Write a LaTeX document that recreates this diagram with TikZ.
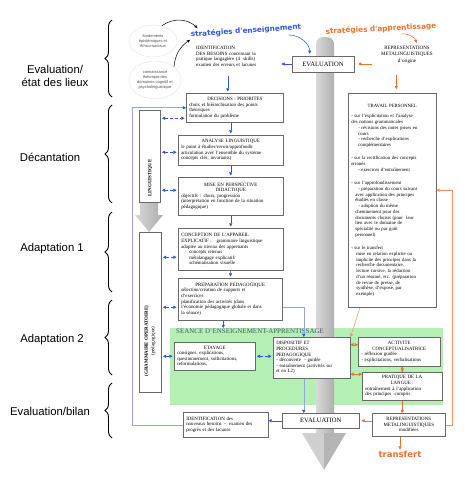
\documentclass[tikz,border=0pt]{standalone}
\usepackage{fontspec}
\setmainfont{Liberation Serif}
\setsansfont{Liberation Sans}
\newfontfamily\stratfont{DejaVu Sans}
\usetikzlibrary{arrows.meta,shapes.geometric,decorations.pathreplacing}
\definecolor{bleu}{RGB}{45,85,225}
\definecolor{orang}{RGB}{240,110,40}
\definecolor{vert}{RGB}{180,240,180}
\definecolor{lavande}{RGB}{150,165,225}
\definecolor{ardoise}{RGB}{70,85,110}
\definecolor{bord}{RGB}{105,105,105}
\newcommand{\boxfont}{\fontsize{4.9}{5.6}\selectfont}
\newcommand{\ttl}[1]{\hfill#1\hfill\null}
\begin{document}
\begin{tikzpicture}[x=1pt,y=-1pt,>={Triangle[length=3.2pt,width=3.2pt]}]
\tikzstyle{boite}=[draw=bord, fill=white, line width=0.5pt, anchor=north west, inner xsep=3pt, inner ysep=2pt, align=left, font=\boxfont]
\tikzstyle{libre}=[anchor=north west, inner sep=1pt, align=left, font=\boxfont]
\tikzstyle{etape}=[font=\sffamily\fontsize{11.3}{13.5}\selectfont, align=center]
\tikzstyle{accol}=[decorate, decoration={brace, amplitude=7pt}, line width=0.9pt]
\tikzstyle{bulle}=[ellipse, draw=gray!22, inner sep=0pt, align=center, font=\sffamily\fontsize{4}{5}\selectfont, text=gray!60!black]
\tikzstyle{strat}=[font=\stratfont\bfseries\fontsize{7.3}{8}\selectfont, inner sep=1pt]
\tikzstyle{vtxt}=[rotate=90, inner sep=0pt, align=center, font=\bfseries\fontsize{5}{6.5}\selectfont]
\tikzstyle{bfl}=[draw=bleu, line width=0.5pt, ->]
\tikzstyle{bdd}=[bfl, <->, densely dashed, shorten <=1.5pt, shorten >=1.5pt]
\tikzstyle{ofl}=[draw=orang, line width=0.5pt, ->]
\tikzstyle{odd}=[ofl, <->]
\tikzstyle{boucle}=[draw=lavande, line width=0.5pt, -{Triangle[length=3.2pt,width=3.2pt,color=bleu]}]
\useasboundingbox (0,0) rectangle (474,484);

\node[etape] (etat) at (55,76) {Evaluation/\\état des lieux};
\node[etape] (decant) at (50,157) {Décantation};
\node[etape] (adapt1) at (52,249) {Adaptation 1};
\node[etape] (adapt2) at (52,340) {Adaptation 2};
\node[etape] (bilan) at (50,411) {Evaluation/bilan};

\draw[accol] (112,97) -- (112,20);
\draw[accol] (112,203) -- (112,105);
\draw[accol] (112,292) -- (112,212);
\draw[accol] (112,375) -- (112,300);
\draw[accol] (112,438) -- (112,383);

\node[bulle, minimum width=48, minimum height=32] (ell1) at (153,41) {fondements\\épistémiques et\\éthico-sociaux};
\node[bulle, minimum width=52, minimum height=38] (ell2) at (155,80) {connaissance\\théorique des\\domaines cognitif et\\psycholinguistique};
\node[strat, text=bleu, rotate=4] (sens) at (246,31) {stratégies d'enseignement};
\node[strat, text=orang, rotate=3] (sapp) at (381,29) {stratégies d'apprentissage};

\node[fill=vert, anchor=north west, inner sep=0pt, minimum width=273, minimum height=77] (seance) at (170,328) {};
\shade[left color=gray!30, right color=gray!62, rounded corners=7pt] (316,440) -- (316,37) -- (334,37) -- (334,440) -- cycle;
\fill[gray!38] (302,433) -- (324,433) -- (324,470) -- cycle;
\fill[gray!58] (324,433) -- (346,433) -- (324,470) -- cycle;
\node[anchor=north west, inner sep=0pt, text=ardoise, font=\fontsize{7}{8}\selectfont] (seanct) at (176,329) {SEANCE D'ENSEIGNEMENT-APPRENTISSAGE};

\node[libre, text width=84] (ide1) at (195,45) {IDENTIFICATION\\DES BESOINS concernant la\\pratique langagière (4 \ skills)\\examen des erreurs et lacunes};
\node[boite, anchor=center, minimum width=62, minimum height=16, font=\fontsize{6.6}{7.5}\selectfont] (ev1) at (323,64) {EVALUATION};
\node[libre, anchor=north, align=center, minimum width=70, font=\fontsize{5}{6.3}\selectfont] (rep1) at (407,45) {REPRESENTATIONS\\METALINGUISTIQUES\\d'origine};

\node[boite, text width=82, minimum height=214, font=\fontsize{4.8}{5.75}\selectfont] (trav) at (348,93) {\ttl{TRAVAIL PERSONNEL}\\[5pt]
- sur l'explicitation et l'analyse\\
des notions grammaticales\\
\hspace*{7pt}- révisions des notes prises en\\
\hspace*{7pt}cours\\
\hspace*{7pt}- recherche d'explications\\
\hspace*{7pt}complémentaires\\[7.5pt]
- sur la rectification des concepts\\
erronés\\
\hspace*{7pt}- exercices d'entraînement\\[7.5pt]
- sur l'approfondissement\\
\hspace*{7pt}- préparation du cours suivant\\
\hspace*{4pt}avec application des principes\\
\hspace*{4pt}étudiés en classe\\
\hspace*{7pt}- adoption du même\\
\hspace*{4pt}cheminement pour des\\
\hspace*{4pt}documents choisis (pour \ leur\\
\hspace*{4pt}lien avec le domaine de\\
\hspace*{4pt}spécialité ou par goût\\
\hspace*{4pt}personnel)\\[7.5pt]
- sur le transfert\\
\hspace*{5pt}mise en relation explicite ou\\
\hspace*{5pt}implicite des principes dans la\\
\hspace*{5pt}recherche documentaire,\\
\hspace*{5pt}lecture cursive, la rédaction\\
\hspace*{5pt}d'un résumé, etc. (préparation\\
\hspace*{5pt}de revue de presse, de\\
\hspace*{5pt}synthèse, d'exposé, par\\
\hspace*{5pt}exemple)};

\node[boite, minimum width=21, minimum height=92] (ling) at (139,110) {};
\node[boite, minimum width=22, minimum height=160] (gram) at (139,232) {};
\node[vtxt] (lingt) at (150,178) {LINGUISTIQUE};
\node[vtxt] (gramt) at (150,341) {(GRAMMAIRE OPERATOIRE)\\{\mdseries(pédagogique)}};
\shade[left color=gray!30, right color=gray!65] (140,203) -- (158,203) -- (158,215) -- (163,215) -- (149,232) -- (135,215) -- (140,215) -- cycle;

\node[boite, text width=91, minimum height=29] (deci) at (186,93) {\ttl{DECISIONS : PRIORITES}\\choix et hiérarchisation des points\\théoriques\\formulation du problème};
\node[boite, text width=99, minimum height=30] (anal) at (178,135) {\ttl{ANALYSE LINGUISTIQUE}\\le point à étudier/revoir/approfondir\\articulation avec l'ensemble du système\\concepts clés, invariants)};
\node[boite, text width=99, minimum height=38] (mise) at (178,177) {\ttl{MISE EN PERSPECTIVE}\\\ttl{DIDACTIQUE}\\objectifs : choix, progression\\(interprétation en fonction de la situation\\pédagogique)};
\node[boite, text width=99, minimum height=42] (conc) at (178,228) {CONCEPTION DE L'APPAREIL\\EXPLICATIF :~~ grammaire linguistique\\adaptée au niveau des apprenants\\\hspace*{8pt}concepts retenus\\\hspace*{8pt}métalangage explicatif/\\\hspace*{8pt}schématisation visuelle};
\node[boite, text width=98, minimum height=42] (prep) at (178,278) {\ttl{PREPARATION PEDAGOGIQUE}\\sélection/création de supports et\\d'exercices\\planification des activités (dans\\l'économie pédagogique globale et dans\\la séance)};

\node[boite, text width=75, minimum height=28] (etay) at (174,342) {\ttl{ETAYAGE}\\consignes, explications,\\questionnement, sollicitations,\\reformulations,};
\node[boite, text width=71, minimum height=41] (disp) at (273,337) {DISPOSITIF ET\\PROCEDURES\\PEDAGOGIQUE\\- découverte \ - guidée\\- entraînement (activités sur\\et en L2)};
\node[boite, text width=76, minimum height=29] (acti) at (358,337) {\ttl{ACTIVITE}\\\ttl{CONCEPTUALISATRICE}\\- réflexion guidée\\- explicitations, verbalisations};
\node[boite, text width=74, minimum height=28] (prat) at (362,372) {\ttl{PRATIQUE DE LA}\\\ttl{LANGUE :}\\entraînement à l'application\\des principes \ compris};

\node[boite, text width=79, minimum height=25] (idn) at (183,412) {IDENTIFICATION des\\nouveaux besoins \,- \ examen des\\progrès et des lacunes};
\node[boite, minimum width=77, minimum height=15, align=center, font=\fontsize{6.6}{7.5}\selectfont] (ev2) at (282,413) {EVALUATION};
\node[boite, text width=67, align=center, minimum height=23] (rep2) at (372,413) {REPRESENTATIONS\\METALINGUISTIQUES\\modifiées};
\node[strat, text=orang, font=\stratfont\bfseries\fontsize{8.5}{9}\selectfont] (transf) at (400,454) {transfert};

\draw[-{Stealth[length=3.5pt,width=3pt]}, line width=0.5pt] (ell1.60) to[bend left=40] ([xshift=8pt,yshift=2pt]sens.north west);
\draw[-{Stealth[length=3.5pt,width=3pt]}, line width=0.5pt] (ell2.35) to[bend left=25] (sens.south west);
\draw[bfl, shorten >=2pt] ([xshift=-14pt,yshift=-3pt]sens.south east) to[bend left=45] ([xshift=18pt]ev1.north west);
\draw[ofl, shorten >=2pt] ([xshift=20pt]sapp.south) to[bend left=40] ([xshift=10pt]rep1.north);

\draw[bfl] (ev1.west) -- (ev1.west -| ide1.east);
\coordinate (pident) at ([xshift=-7pt]deci.north);
\draw[bfl, shorten <=9pt, shorten >=1.5pt] (pident |- ide1.south) -- (pident);
\draw[bfl, shorten >=1.5pt] (anal.north |- deci.south) -- (anal.north);
\draw[bfl, shorten >=1.5pt] (anal.south) -- (mise.north);
\draw[bfl, shorten >=1.5pt] (mise.south) -- (conc.north);
\draw[bfl, shorten >=1.5pt] (conc.south) -- (prep.north);
\coordinate (pprepS) at ([xshift=-7pt]prep.south);
\draw[bfl] (pprepS) -- (pprepS |- seance.north);

\coordinate (pdeci) at ([yshift=-10.5pt]deci.west);
\coordinate (panal) at ([yshift=-2pt]anal.west);
\coordinate (pmise) at ([yshift=6pt]mise.west);
\coordinate (pconc) at ([yshift=-8pt]conc.west);
\coordinate (pprep) at ([yshift=-8pt]prep.west);
\draw[bdd] (ling.east |- pdeci) -- (pdeci);
\draw[bdd] (ling.east |- panal) -- (panal);
\draw[bdd] (ling.east |- pmise) -- (pmise);
\draw[bdd] (gram.east |- pconc) -- (pconc);
\draw[bdd] (gram.east |- pprep) -- (pprep);
\draw[bdd] (gram.east |- etay.west) -- (etay.west);
\draw[bdd] (etay.east) -- (etay.east -| disp.west);

\coordinate (pprepe) at ([yshift=-8pt]prep.east);
\coordinate (pdisp) at ([xshift=-8pt]disp.north);
\draw[boucle] (pprepe) -| (pdisp);
\coordinate (pdisps) at ([xshift=-8pt]disp.south);
\draw[boucle] (pdisps) -- (pdisps |- ev2.north);
\draw[bfl] (ev2.west) -- (ev2.west -| idn.east);
\coordinate (gauche) at (132,0);
\draw[boucle] (idn.west) -| (gauche |- deci.west) -- (deci.west);

\draw[ofl, shorten >=4pt] (rep1.west |- ev1.east) -- (ev1.east);
\coordinate (ptrav) at ([xshift=4pt]trav.north);
\draw[ofl, shorten <=3pt, shorten >=4pt] (ptrav |- ev1.south) -- (ptrav);
\coordinate (ptravs) at ([xshift=12pt]trav.south west);
\draw[ofl, draw=orang!75] (ptravs) -- (disp.north east);
\coordinate (pacti) at ([yshift=7pt]acti.west);
\draw[odd] (disp.east |- pacti) -- (pacti);
\coordinate (pprat) at ([yshift=12pt]prat.west);
\draw[odd] (disp.east |- pprat) -- (pprat);
\draw[odd, {Triangle[length=2.5pt,width=3pt]}-{Triangle[length=2.5pt,width=3pt]}] (acti.south -| prat.north) -- (prat.north);
\draw[ofl] (prat.south) -- (prat.south |- rep2.north);
\draw[ofl, shorten >=2pt] (rep2.west |- ev2.east) -- (ev2.east);
\draw[ofl] (rep2.south -| transf.north) -- (transf.north);
\coordinate (droite) at (452,0);
\coordinate (ptrave) at ([yshift=10pt]trav.east);
\draw[ofl, draw=orang!75] (rep2.east) -| (droite |- ptrave) -- (ptrave);
\end{tikzpicture}
\end{document}
